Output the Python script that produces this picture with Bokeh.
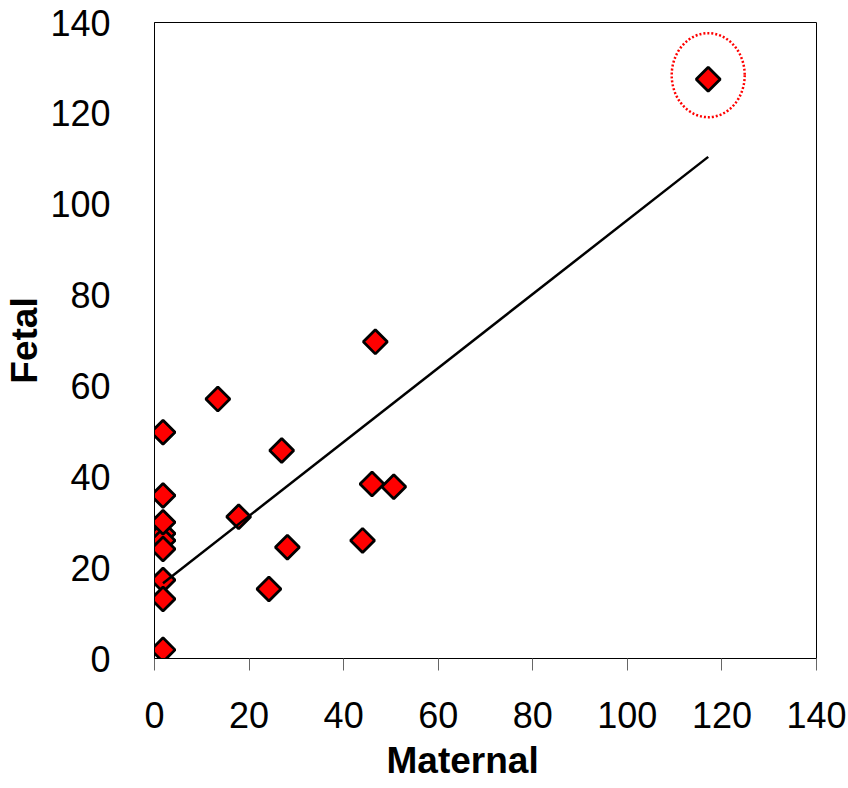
import numpy as np
from bokeh.plotting import figure
from bokeh.models import Range1d, FixedTicker, Title
from bokeh.embed import file_html
from bokeh.resources import INLINE

# ---- data ----
maternal = [1.8, 1.8, 46.7, 13.4, 1.8, 26.9, 1.8, 46.0, 50.6, 1.8,
            1.8, 17.8, 28.1, 24.2, 44.0, 1.8, 1.8, 1.8, 117.1]
fetal = [27.5, 26.0, 69.7, 57.1, 49.8, 45.8, 35.9, 38.4, 37.8, 30.0,
         24.1, 31.2, 24.5, 15.3, 26.0, 17.3, 13.1, 1.9, 127.5]

# linear trend line
fit_slope = 0.814
fit_intercept = 15.1

x_ticks = [0, 20, 40, 60, 80, 100, 120, 140]
y_ticks = [0, 20, 40, 60, 80, 100, 120, 140]

x_title = "Maternal"
y_title = "Fetal"

FONT = "Liberation Sans"

p = figure(width=848, height=788, output_backend="svg", toolbar_location=None,
           x_range=Range1d(0, 140), y_range=Range1d(0, 140),
           min_border_left=154, min_border_right=32,
           min_border_top=22, min_border_bottom=130)

p.background_fill_color = "white"
p.border_fill_color = "white"
p.outline_line_color = "black"
p.outline_line_width = 1
p.xgrid.visible = False
p.ygrid.visible = False

# markers
p.scatter(maternal, fetal, marker="square", size=17, angle=np.pi / 4,
          fill_color="#ff0000", line_color="black", line_width=2.8)

# trend line
xs = np.array([min(maternal), max(maternal)])
p.line(xs, fit_slope * xs + fit_intercept, line_color="black", line_width=2.5)

# highlight of outlier
imax = int(np.argmax(fetal))
p.ellipse(x=[maternal[imax]], y=[fetal[imax] + 0.9], width=73, height=84,
          width_units="screen", height_units="screen",
          fill_color=None, line_color="#ff0000", line_width=2.5, line_dash="2 2")

# axes
xa = p.xaxis[0]
xa.ticker = FixedTicker(ticks=x_ticks)
xa.axis_line_color = "black"
xa.major_tick_line_color = "#666666"
xa.major_tick_out = 12
xa.major_tick_in = 0
xa.minor_tick_out = 0
xa.minor_tick_in = 0
xa.major_label_standoff = 31
xa.major_label_text_font = FONT
xa.major_label_text_font_size = "36px"
xa.major_label_text_color = "black"

# x-axis title (shifted left like the reference)
p.add_layout(Title(text=x_title, align="left", offset=232, standoff=15,
                   text_font=FONT, text_font_size="37px", text_font_style="bold",
                   text_color="black"), "below")

ya = p.yaxis[0]
ya.ticker = FixedTicker(ticks=y_ticks)
ya.axis_label = y_title
ya.axis_line_color = "black"
ya.major_tick_out = 0
ya.major_tick_in = 0
ya.minor_tick_out = 0
ya.minor_tick_in = 0
ya.major_label_standoff = 44
ya.major_label_text_font = FONT
ya.major_label_text_font_size = "36px"
ya.major_label_text_color = "black"
ya.axis_label_text_font = FONT
ya.axis_label_text_font_size = "37px"
ya.axis_label_text_font_style = "bold"
ya.axis_label_text_color = "black"
ya.axis_label_standoff = 2

open("out.html", "w").write(file_html(p, INLINE))
